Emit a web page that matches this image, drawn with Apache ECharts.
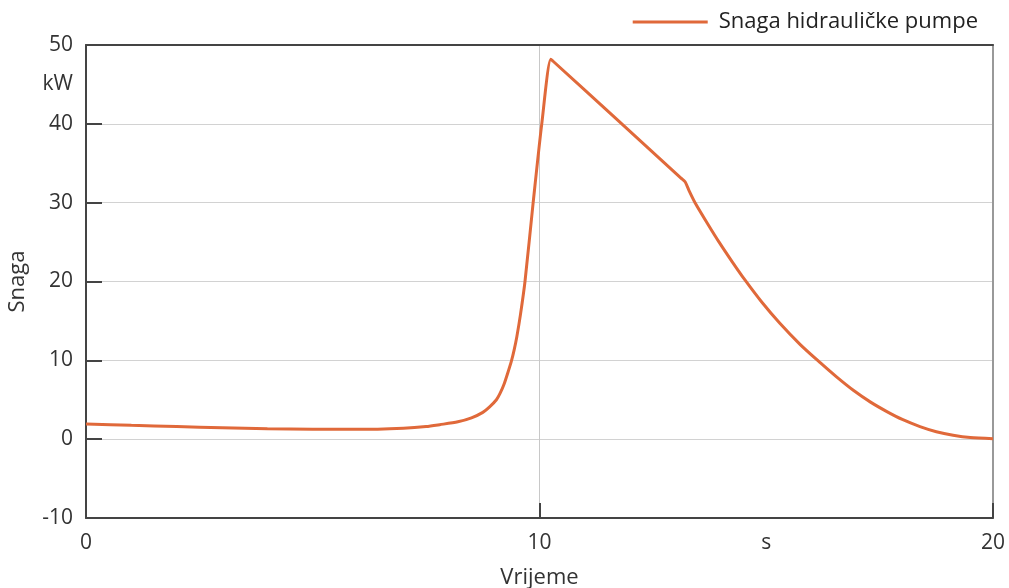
<!DOCTYPE html>
<html>
<head>
<meta charset="utf-8">
<script src="https://cdn.jsdelivr.net/npm/echarts@6/dist/echarts.min.js"></script>
<style>
html,body{margin:0;padding:0;background:#fff;}
#chart{width:1009px;height:588px;}
</style>
</head>
<body>
<div id="chart"></div>
<script>
const seriesName = 'Snaga hidrauličke pumpe';
const times = [0, 1, 2, 3, 4, 5, 6, 7, 7.5, 7.8, 8.2, 8.5, 8.75, 8.9, 9.05, 9.13, 9.22, 9.3, 9.38, 9.44, 9.5, 9.58, 9.68, 9.86, 10.05, 10.25, 10.3, 11.7, 13.12, 13.21, 13.3, 13.43, 13.7, 13.96, 14.25, 14.53, 14.9, 15.3, 15.75, 16.19, 16.55, 16.92, 17.3, 17.66, 18.0, 18.39, 18.75, 19.12, 19.5, 20];
const power = [1.93, 1.75, 1.6, 1.45, 1.32, 1.26, 1.25, 1.4, 1.6, 1.84, 2.2, 2.7, 3.4, 4.1, 5.0, 5.8, 7.0, 8.4, 9.9, 11.3, 13.0, 15.8, 20, 30, 40, 48.2, 47.94, 40.6, 33.12, 32.65, 31.5, 30, 27.4, 25, 22.5, 20.2, 17.4, 14.7, 12.0, 9.7, 7.9, 6.2, 4.7, 3.5, 2.5, 1.6, 0.95, 0.5, 0.2, 0.05];
const xTicks = {min: 0, max: 20, step: 10, unitAt: 15, unit: 's'};
const yTicks = {min: -10, max: 50, step: 10, unitAt: 45, unit: 'kW'};
const xName = 'Vrijeme';
const yName = 'Snaga';

const data = times.map((t, i) => [t, power[i]]);
const FONT = '"Open Sans", "Noto Sans", sans-serif';
const txt = '#333';
const dark = '#444';

const chart = echarts.init(document.getElementById('chart'));
chart.setOption({
  animation: false,
  backgroundColor: '#fff',
  textStyle: {fontFamily: FONT},
  grid: {left: 86, right: 16, top: 45, bottom: 70, containLabel: false, outerBoundsMode: 'none'},
  legend: {
    right: 26, top: 6,
    icon: 'rect', itemWidth: 75, itemHeight: 3,
    textStyle: {fontSize: 22, color: '#222', fontFamily: FONT, padding: [0, 0, 0, 6]},
    data: [seriesName]
  },
  xAxis: [
    {
      type: 'value', min: xTicks.min, max: xTicks.max, interval: xTicks.step, position: 'bottom',
      name: xName, nameLocation: 'middle', nameGap: 49,
      nameTextStyle: {fontSize: 22, color: txt, fontFamily: FONT},
      axisLine: {onZero: false, lineStyle: {color: dark, width: 2}},
      axisTick: {inside: true, length: 15, lineStyle: {color: dark, width: 2}},
      axisLabel: {fontSize: 21, color: txt, margin: 15, fontFamily: FONT},
      splitLine: {show: true, lineStyle: {color: '#c8c8c8', width: 1}}
    },
    {
      type: 'value', min: xTicks.min, max: xTicks.max, interval: 5, position: 'bottom',
      axisLine: {show: false, onZero: false}, axisTick: {show: false}, splitLine: {show: false},
      axisLabel: {fontSize: 21, color: txt, margin: 15, fontFamily: FONT,
        formatter: v => (v === xTicks.unitAt ? xTicks.unit : '')}
    },
    {
      type: 'value', min: xTicks.min, max: xTicks.max, position: 'top',
      axisLine: {onZero: false, lineStyle: {color: dark, width: 2}},
      axisTick: {show: false}, axisLabel: {show: false}, splitLine: {show: false}
    }
  ],
  yAxis: [
    {
      type: 'value', min: yTicks.min, max: yTicks.max, interval: yTicks.step, position: 'left',
      name: yName, nameLocation: 'middle', nameGap: 57, nameRotate: 90,
      nameTextStyle: {fontSize: 22, color: txt, fontFamily: FONT},
      axisLine: {onZero: false, lineStyle: {color: dark, width: 2}},
      axisTick: {inside: true, length: 16, lineStyle: {color: dark, width: 2}},
      axisLabel: {fontSize: 21, color: txt, margin: 13, fontFamily: FONT},
      splitLine: {show: true, lineStyle: {color: '#d2d2d2', width: 1}}
    },
    {
      type: 'value', min: yTicks.min, max: yTicks.max, interval: 5, position: 'left',
      axisLine: {show: false, onZero: false}, axisTick: {show: false}, splitLine: {show: false},
      axisLabel: {fontSize: 21, color: txt, margin: 13, fontFamily: FONT,
        formatter: v => (v === yTicks.unitAt ? yTicks.unit : '')}
    },
    {
      type: 'value', min: yTicks.min, max: yTicks.max, position: 'right',
      axisLine: {onZero: false, lineStyle: {color: '#999', width: 2}},
      axisTick: {show: false}, axisLabel: {show: false}, splitLine: {show: false}
    }
  ],
  series: [{
    name: seriesName,
    type: 'line',
    xAxisIndex: 0, yAxisIndex: 0,
    data: data,
    showSymbol: false,
    symbol: 'none',
    smooth: 0.25,
    z: 5,
    lineStyle: {color: '#e0693a', width: 3},
    itemStyle: {color: '#e0693a'}
  }]
});
</script>
</body>
</html>
